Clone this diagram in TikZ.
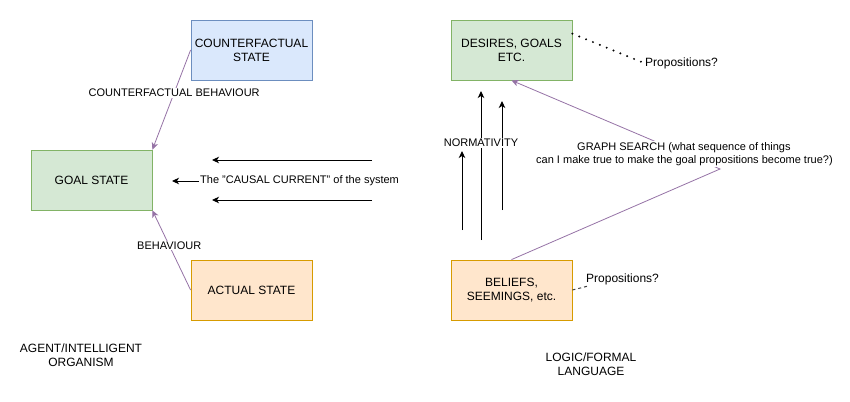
\documentclass[tikz,border=0pt]{standalone}
\usepackage{fontspec}
\setmainfont{Liberation Sans}
\usetikzlibrary{arrows.meta}
\definecolor{cfFill}{HTML}{DAE8FC}
\definecolor{cfLine}{HTML}{6C8EBF}
\definecolor{gFill}{HTML}{D5E8D4}
\definecolor{gLine}{HTML}{82B366}
\definecolor{oFill}{HTML}{FFE6CC}
\definecolor{oLine}{HTML}{D79B00}
\definecolor{purp}{HTML}{9673A6}
\tikzset{
  box/.style={draw, line width=0.8pt, minimum width=121pt, minimum height=60pt, align=center, inner sep=2pt, font=\fontsize{12}{14}\selectfont},
  bluebox/.style={box, fill=cfFill, draw=cfLine},
  greenbox/.style={box, fill=gFill, draw=gLine},
  orangebox/.style={box, fill=oFill, draw=oLine},
  lbl/.style={font=\fontsize{11}{13}\selectfont, inner sep=1pt, align=center},
  biglbl/.style={font=\fontsize{12}{14}\selectfont, inner sep=1pt, align=center},
  tip/.style={-{Stealth[length=7pt, width=6.5pt, inset=2pt]}},
  purpline/.style={draw=purp, line width=0.8pt, tip, color=purp},
  blackarrow/.style={line width=1pt, tip},
}
\begin{document}
\begin{tikzpicture}[x=1pt, y=-1pt]
\useasboundingbox (0,0) rectangle (850,401);
\fill[white] (0,0) rectangle (850,401);

% boxes
\node[bluebox] (cf) at (251.5,50) {COUNTERFACTUAL\\STATE};
\node[greenbox] (goal) at (91.5,180) {GOAL STATE};
\node[orangebox] (actual) at (251.5,290) {ACTUAL STATE};
\node[greenbox] (desires) at (511.5,50) {DESIRES, GOALS\\ETC.};
\node[orangebox] (beliefs) at (511.5,290) {BELIEFS,\\SEEMINGS, etc.};

% left purple connectors
\draw[purpline] (cf.west) -- (goal.north east)
  node[lbl, fill=white, text=black, pos=0.43] (cflbl) {COUNTERFACTUAL BEHAVIOUR};
\draw[purpline] (actual.west) -- (goal.south east)
  node[lbl, fill=white, text=black, pos=0.56] (behlbl) {BEHAVIOUR};

% causal current
\coordinate (c1s) at (372,160);
\coordinate (c1e) at (212,160);
\coordinate (c3s) at (372,200);
\coordinate (c3e) at (212,200);
\coordinate (c2e) at (172,181);
\node[lbl, anchor=west] (causal) at (199,181) {The "CAUSAL CURRENT" of the system};
\draw[blackarrow] (c1s) -- (c1e);
\draw[blackarrow] (c3s) -- (c3e);
\draw[blackarrow] (causal.west) -- (c2e);

% normativity arrows
\coordinate (n1b) at (462,230);
\coordinate (n1t) at (462,151);
\coordinate (n2b) at (481,240);
\coordinate (n2t) at (481,91);
\coordinate (n3b) at (502,210);
\coordinate (n3t) at (502,101);
\draw[blackarrow] (n1b) -- (n1t);
\draw[blackarrow] (n2b) -- (n2t);
\draw[blackarrow] (n3b) -- (n3t);
\node[lbl, fill=white] (norm) at (481,143) {NORMATIVITY};

% graph search
\coordinate (wp) at (720,169);
\draw[purpline] (beliefs.north) -- (wp) -- (desires.south);
\node[lbl, fill=white, align=left, anchor=west] (gs) at (535,154)
  {\hspace*{41pt}GRAPH SEARCH (what sequence of things\\can I make true to make the goal propositions become true?)};

% propositions
\node[biglbl, anchor=west] (prop1) at (644,63) {Propositions?};
\draw[line width=2.2pt, line cap=round, dash pattern=on 0pt off 7.4pt] (desires.15) -- (prop1.west);
\node[biglbl, anchor=west] (prop2) at (585,279) {Propositions?};
\draw[line width=1pt, draw=black!75, dash pattern=on 3pt off 3pt] (beliefs.east) -- ([xshift=4pt]prop2.south west);

% titles
\node[biglbl] (agent) at (81,355) {AGENT/INTELLIGENT\\ORGANISM};
\node[biglbl] (logic) at (591,364.5) {LOGIC/FORMAL\\LANGUAGE};
\end{tikzpicture}
\end{document}
